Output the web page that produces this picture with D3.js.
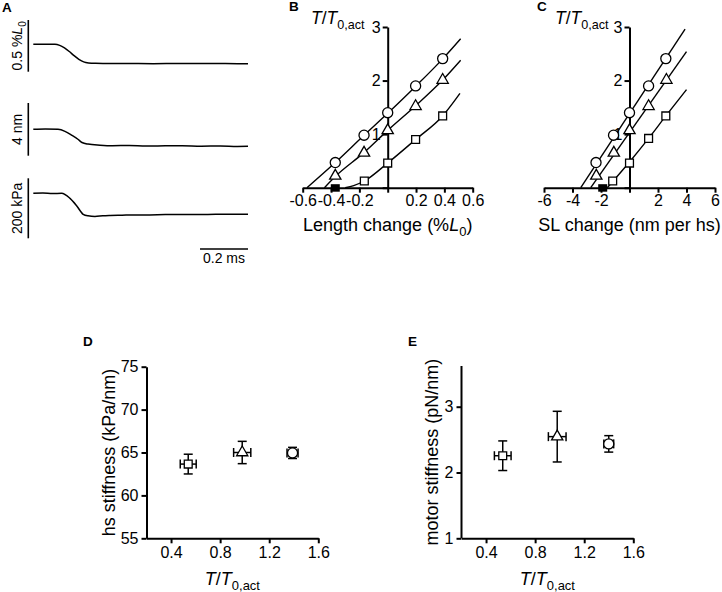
<!DOCTYPE html>
<html><head><meta charset="utf-8">
<script src="https://cdn.jsdelivr.net/npm/d3@7"></script>
<style>
html,body{margin:0;padding:0;background:#fff;}
svg{display:block;}
</style></head>
<body>
<svg id="fig" width="722" height="592"></svg>
<script>
// ---------------- DATA ----------------
// Panel A traces (time in ms)
const tLen = [0, 0.09, 0.11, 0.13, 0.15, 0.17, 0.19, 0.21, 0.23, 0.26, 0.32, 0.4, 0.5, 0.6, 0.7, 0.8, 0.895];
const lenTrace = [0, 0, -0.01, -0.035, -0.07, -0.11, -0.145, -0.17, -0.18, -0.184, -0.186, -0.185, -0.187, -0.186, -0.185, -0.186, -0.188];
const tSl = [0, 0.05, 0.103, 0.132, 0.161, 0.186, 0.203, 0.228, 0.278, 0.33, 0.4, 0.47, 0.55, 0.62, 0.7, 0.78, 0.85, 0.895];
const slTrace = [0, 0.03, 0, -0.15, -0.45, -0.75, -1.0, -1.12, -1.2, -1.24, -1.22, -1.27, -1.25, -1.24, -1.28, -1.26, -1.3, -1.29];
const tForce = [0, 0.04, 0.08, 0.118, 0.153, 0.182, 0.208, 0.228, 0.257, 0.29, 0.32, 0.37, 0.42, 0.486, 0.55, 0.62, 0.695, 0.76, 0.83, 0.895];
const forceTrace = [0, 1, -1, 0, -17, -43, -70, -75, -77, -75, -74, -73, -72, -72, -71, -71, -71, -70, -70, -70];
const scaleBarLabels = ["0.5 %L0", "4 nm", "200 kPa", "0.2 ms"];

// Panel B: T/T0,act vs length change (%L0)
const bXTicks = [-0.6, -0.4, -0.2, 0, 0.2, 0.4, 0.6];
const bYTicks = [0, 1, 2, 3];
const bXCircTri = [-0.37, -0.167, 0, 0.197, 0.388];
const bXSq = [-0.165, 0, 0.197, 0.388];
const bCircle = [0.47, 0.98, 1.40, 1.90, 2.41];
const bTriangle = [0.22, 0.65, 1.07, 1.52, 2.01];
const bSquare = [0.125, 0.46, 0.90, 1.34];
const bFilled = [-0.37];
const bFitCircleX = [-0.57, -0.37, -0.167, 0, 0.2, 0.39, 0.515];
const bFitCircleY = [0, 0.47, 0.98, 1.39, 1.9, 2.41, 2.78];
const bFitTriX = [-0.447, -0.37, -0.17, 0, 0.197, 0.388, 0.515];
const bFitTriY = [0, 0.21, 0.65, 1.07, 1.53, 2.01, 2.38];
const bFitSqX = [-0.30, -0.24, -0.165, 0, 0.197, 0.388, 0.51];
const bFitSqY = [0, 0.04, 0.125, 0.46, 0.9, 1.34, 1.76];

// Panel C: T/T0,act vs SL change (nm per hs)
const cXTicks = [-6, -4, -2, 0, 2, 4, 6];
const cXCirc = [-2.35, -1.12, 0, 1.34, 2.55];
const cXTri = [-2.33, -1.1, 0, 1.34, 2.59];
const cXSq = [-1.18, 0, 1.34, 2.55];
const cCircle = [0.47, 0.98, 1.40, 1.90, 2.41];
const cTriangle = [0.22, 0.65, 1.07, 1.52, 2.01];
const cSquare = [0.125, 0.46, 0.92, 1.34];
const cFilled = [-1.88];
const cFitCircleX = [-3.42, 3.9];
const cFitCircleY = [0, 2.96];
const cFitTriX = [-2.72, 4.0];
const cFitTriY = [0, 2.54];
const cFitSqX = [-1.56, 0, 1.34, 2.55, 4.0];
const cFitSqY = [0, 0.48, 0.92, 1.34, 1.83];

// Panel D / E: stiffness vs T/T0,act (square, triangle, circle)
const symbols = ["square", "triangle", "circle"];
const dT = [0.54, 0.98, 1.39];
const dTErr = [0.065, 0.07, 0.045];
const dHs = [63.65, 65.0, 64.95];
const dHsErr = [1.15, 1.3, 0.65];
const dXTicks = [0.4, 0.8, 1.2, 1.6];
const dYTicks = [55, 60, 65, 70, 75];
const eT = [0.536, 0.98, 1.40];
const eTErr = [0.068, 0.072, 0.04];
const eMotor = [2.255, 2.545, 2.435];
const eMotorErr = [0.225, 0.385, 0.125];
const eXTicks = [0.4, 0.8, 1.2, 1.6];
const eYTicks = [1, 2, 3];

// ---------------- DRAWING ----------------
const FONT = "'Liberation Sans', Arial, Helvetica, sans-serif";
const svg = d3.select("#fig").style("font-family", FONT);
svg.append("rect").attr("width", 722).attr("height", 592).attr("fill", "#fff");

function panelLetter(t, x, y) {
  svg.append("text").attr("x", x).attr("y", y).text(t)
    .attr("font-weight", "bold").attr("font-size", 13.5).attr("fill", "#000");
}
function tTitle(g, x, y, size, anchor) {
  const t = g.append("text").attr("x", x).attr("y", y).attr("font-size", size)
    .attr("text-anchor", anchor || "start").attr("fill", "#000");
  t.append("tspan").attr("font-style", "italic").text("T");
  t.append("tspan").text("/");
  t.append("tspan").attr("font-style", "italic").text("T");
  t.append("tspan").attr("font-size", size * 0.72).attr("dy", size * 0.3).text("0,act");
  return t;
}
function styleAxis(g, fs) {
  g.selectAll("path.domain").attr("stroke", "#000").attr("stroke-width", 2);
  g.selectAll(".tick line").attr("stroke", "#000").attr("stroke-width", 2);
  g.selectAll(".tick text").attr("font-size", fs).attr("fill", "#000").attr("font-family", FONT);
}
const symMap = { square: d3.symbolSquare, triangle: d3.symbolTriangle, circle: d3.symbolCircle };
const symSize = { square: 62, triangle: 55, circle: 80 };
function marker(g, type, x, y, fill) {
  g.append("path")
    .attr("d", d3.symbol().type(symMap[type]).size(symSize[type])())
    .attr("transform", `translate(${x},${y})`)
    .attr("fill", fill || "#fff").attr("stroke", "#000").attr("stroke-width", 1.3);
}

// ----- Panel A -----
panelLetter("A", 2, 12);
const gA = svg.append("g");
const tx = d3.scaleLinear().domain([0, 0.895]).range([33.3, 248]);
const barX = 28.3;
const traces = [
  { t: tLen, v: lenTrace, y: d3.scaleLinear().domain([-0.265, 0.235]).range([71.7, 20]), bar: [-0.265, 0.235] },
  { t: tSl, v: slTrace, y: d3.scaleLinear().domain([-2, 2]).range([155.7, 103]), bar: [-2, 2] },
  { t: tForce, v: forceTrace, y: d3.scaleLinear().domain([-150, 50]).range([238.3, 178.3]), bar: [-150, 50] }
];
traces.forEach((tr, i) => {
  const line = d3.line().x((d, j) => tx(tr.t[j])).y(d => tr.y(d)).curve(d3.curveMonotoneX);
  gA.append("path").attr("d", line(tr.v)).attr("fill", "none").attr("stroke", "#000").attr("stroke-width", 1.5);
  gA.append("line").attr("x1", barX).attr("x2", barX)
    .attr("y1", tr.y(tr.bar[0])).attr("y2", tr.y(tr.bar[1]))
    .attr("stroke", "#000").attr("stroke-width", 1.6);
  const cy = (tr.y(tr.bar[0]) + tr.y(tr.bar[1])) / 2;
  const lab = gA.append("text").attr("transform", `translate(${barX - 6.5},${cy}) rotate(-90)`)
    .attr("text-anchor", "middle").attr("font-size", 14).attr("fill", "#000");
  if (i === 0) {
    lab.append("tspan").text("0.5 %");
    lab.append("tspan").attr("font-style", "italic").text("L");
    lab.append("tspan").attr("font-size", 10).attr("dy", 4).text("0");
  } else {
    lab.text(scaleBarLabels[i]);
  }
});
gA.append("line").attr("x1", tx(0.695)).attr("x2", tx(0.895)).attr("y1", 249).attr("y2", 249)
  .attr("stroke", "#000").attr("stroke-width", 1.6);
gA.append("text").attr("x", (tx(0.695) + tx(0.895)) / 2).attr("y", 263).attr("text-anchor", "middle")
  .attr("font-size", 14).text(scaleBarLabels[3]);

// ----- Panels B and C -----
function fitPanel(opts) {
  const g = svg.append("g");
  const x = d3.scaleLinear().domain(opts.xDomain).range(opts.xRange);
  const y = d3.scaleLinear().domain([0, 3]).range([187.7, 27]);
  const fmt = d => d === 0 ? "" : String(d);
  const ax = g.append("g").attr("transform", `translate(0,${y(0)})`)
    .call(d3.axisBottom(x).tickValues(opts.xTicks).tickFormat(fmt).tickSize(5).tickPadding(2).tickSizeOuter(0));
  styleAxis(ax, 16);
  const ay = g.append("g").attr("transform", `translate(${x(0)},0)`)
    .call(d3.axisLeft(y).tickValues(bYTicks).tickFormat(fmt).tickSize(5).tickPadding(2).tickSizeOuter(0));
  styleAxis(ay, 16);
  const line = d3.line().curve(d3.curveMonotoneX);
  opts.fits.forEach(f => {
    g.append("path").attr("d", line(f[0].map((v, i) => [x(v), y(f[1][i])])))
      .attr("fill", "none").attr("stroke", "#000").attr("stroke-width", 1.4);
  });
  opts.series.forEach(s => {
    s.x.forEach((xv, i) => marker(g, s.type, x(xv), y(s.y[i])));
  });
  opts.filled.forEach(v => {
    g.append("rect").attr("x", x(v) - 4.5).attr("y", y(0) - 3.5).attr("width", 9).attr("height", 7.5).attr("fill", "#000");
  });
  g.append("text").attr("x", x(0)).attr("y", 231).attr("text-anchor", "middle")
    .attr("font-size", 18).attr("fill", "#000").call(opts.xTitle);
  tTitle(g, opts.titleX, 24, 17.5);
}
panelLetter("B", 289, 11);
fitPanel({
  xDomain: [-0.6, 0.6], xRange: [302.7, 472.7], xTicks: bXTicks,
  fits: [[bFitCircleX, bFitCircleY], [bFitTriX, bFitTriY], [bFitSqX, bFitSqY]],
  series: [
    { type: "circle", x: bXCircTri, y: bCircle },
    { type: "triangle", x: bXCircTri, y: bTriangle },
    { type: "square", x: bXSq, y: bSquare }
  ],
  filled: bFilled,
  titleX: 311,
  xTitle: t => {
    t.append("tspan").text("Length change (%");
    t.append("tspan").attr("font-style", "italic").text("L");
    t.append("tspan").attr("font-size", 13).attr("dy", 5).text("0");
    t.append("tspan").attr("dy", -5).text(")");
  }
});
panelLetter("C", 537, 11);
fitPanel({
  xDomain: [-6, 6], xRange: [544, 715], xTicks: cXTicks,
  fits: [[cFitCircleX, cFitCircleY], [cFitTriX, cFitTriY], [cFitSqX, cFitSqY]],
  series: [
    { type: "circle", x: cXCirc, y: cCircle },
    { type: "triangle", x: cXTri, y: cTriangle },
    { type: "square", x: cXSq, y: cSquare }
  ],
  filled: cFilled,
  titleX: 555,
  xTitle: t => t.text("SL change (nm per hs)")
});

// ----- Panels D and E -----
function stiffPanel(opts) {
  const g = svg.append("g");
  const x = d3.scaleLinear().domain([0.2, 1.6]).range(opts.xRange);
  const y = d3.scaleLinear().domain(opts.yDomain).range(opts.yRange);
  const ax = g.append("g").attr("transform", `translate(0,${opts.yRange[0]})`)
    .call(d3.axisBottom(x).tickValues(opts.xTicks).tickFormat(d3.format(".1f")).tickSize(5).tickPadding(3).tickSizeOuter(0));
  styleAxis(ax, 16);
  const ay = g.append("g").attr("transform", `translate(${opts.xRange[0]},0)`)
    .call(d3.axisLeft(y).tickValues(opts.yTicks).tickFormat(d3.format("d")).tickSize(5).tickPadding(3).tickSizeOuter(0));
  styleAxis(ay, 16);
  if (opts.yTop) {
    ay.select("path.domain").attr("d", `M0,${y(opts.yDomain[0])}V${opts.yTop}`);
  }
  const cap = 4.5;
  symbols.forEach((s, i) => {
    const cx = x(opts.xv[i]), cy = y(opts.yv[i]);
    const y1 = y(opts.yv[i] + opts.ye[i]), y2 = y(opts.yv[i] - opts.ye[i]);
    const x1 = x(opts.xv[i] - opts.xe[i]), x2 = x(opts.xv[i] + opts.xe[i]);
    const eb = g.append("g").attr("stroke", "#000").attr("stroke-width", 1.5);
    eb.append("line").attr("x1", cx).attr("x2", cx).attr("y1", y1).attr("y2", y2);
    eb.append("line").attr("x1", cx - cap).attr("x2", cx + cap).attr("y1", y1).attr("y2", y1);
    eb.append("line").attr("x1", cx - cap).attr("x2", cx + cap).attr("y1", y2).attr("y2", y2);
    eb.append("line").attr("x1", x1).attr("x2", x2).attr("y1", cy).attr("y2", cy);
    eb.append("line").attr("x1", x1).attr("x2", x1).attr("y1", cy - cap).attr("y2", cy + cap);
    eb.append("line").attr("x1", x2).attr("x2", x2).attr("y1", cy - cap).attr("y2", cy + cap);
    marker(g, s, cx, cy);
  });
  const mid = (opts.yRange[0] + (opts.yTop || opts.yRange[1])) / 2;
  g.append("text").attr("transform", `translate(${opts.yTitleX},${mid}) rotate(-90)`)
    .attr("text-anchor", "middle").attr("font-size", 18).attr("fill", "#000").text(opts.yTitle);
  tTitle(g, (opts.xRange[0] + opts.xRange[1]) / 2, 585, 18, "middle");
}
panelLetter("D", 83, 346);
stiffPanel({
  xRange: [146.5, 318.3], yDomain: [55, 75], yRange: [538.3, 366.7],
  xTicks: dXTicks, yTicks: dYTicks, xv: dT, xe: dTErr, yv: dHs, ye: dHsErr,
  yTitle: "hs stiffness (kPa/nm)", yTitleX: 115
});
panelLetter("E", 408, 346);
stiffPanel({
  xRange: [461.5, 633.3], yDomain: [1, 3], yRange: [538.3, 406.7], yTop: 366,
  xTicks: eXTicks, yTicks: eYTicks, xv: eT, xe: eTErr, yv: eMotor, ye: eMotorErr,
  yTitle: "motor stiffness (pN/nm)", yTitleX: 438
});
</script>
</body></html>
